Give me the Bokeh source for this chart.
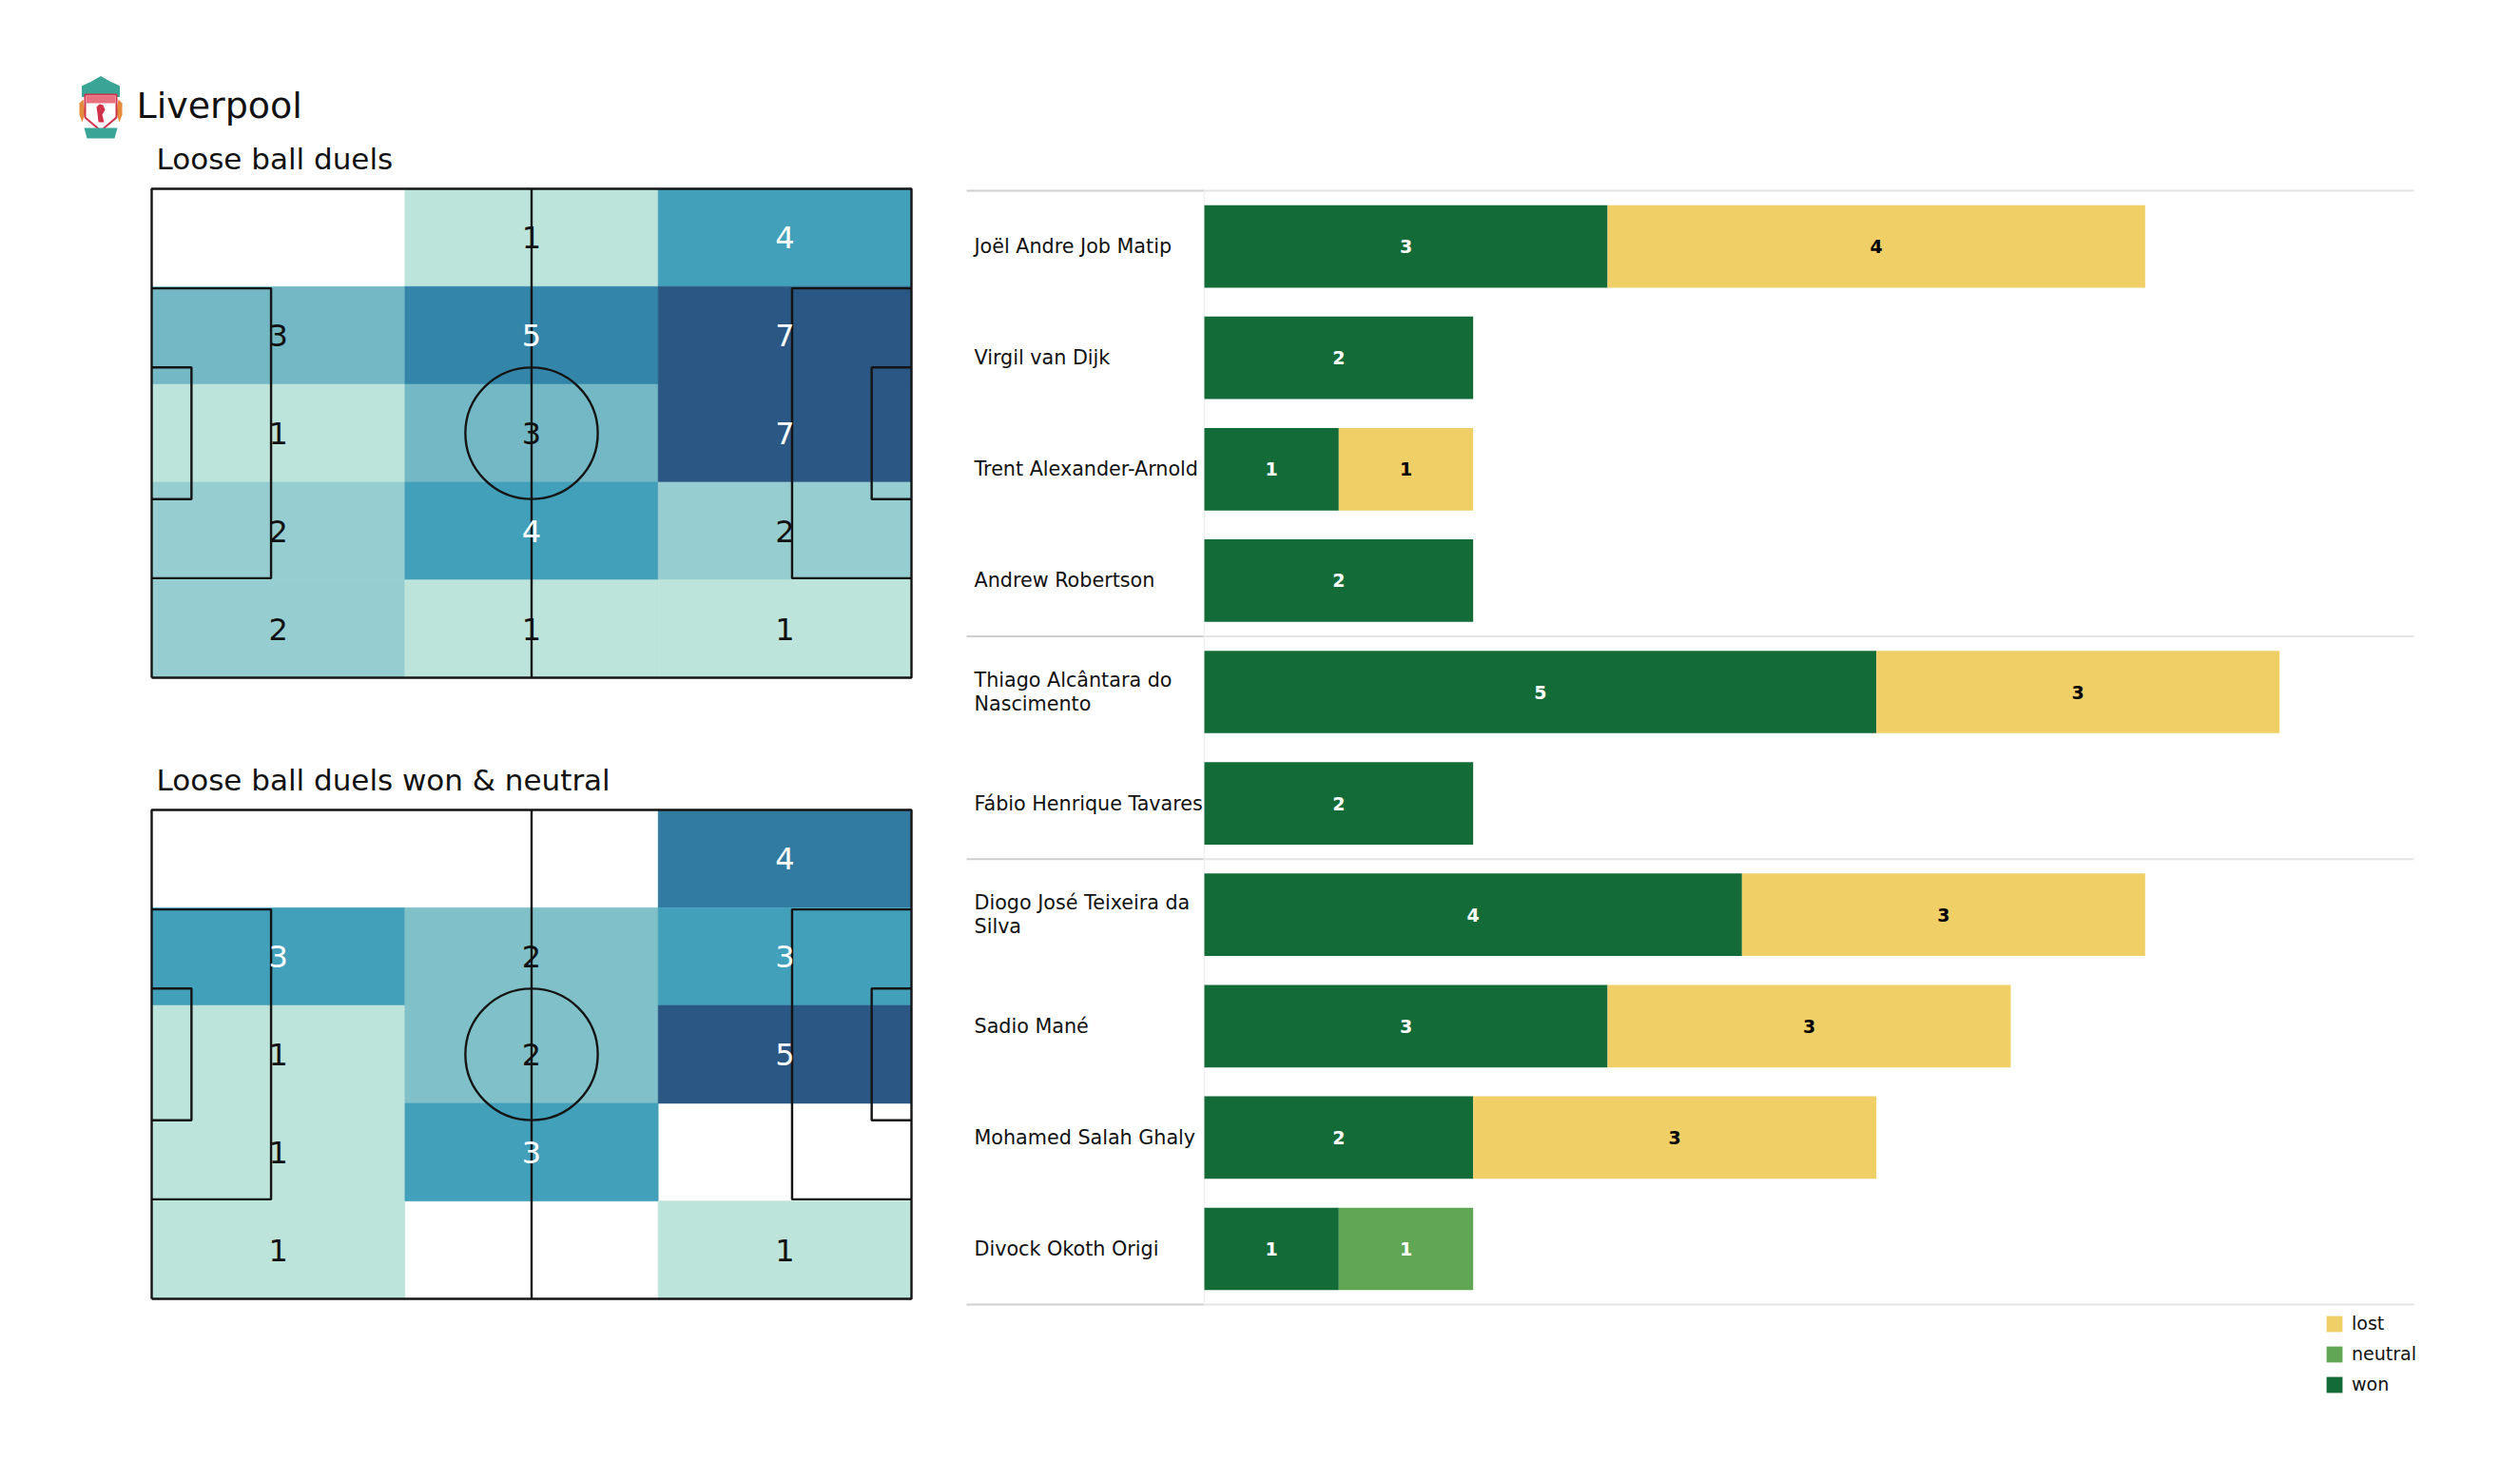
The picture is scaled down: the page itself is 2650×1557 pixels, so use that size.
from bokeh.plotting import figure
from bokeh.models import Range1d, Label, Legend, LegendItem, ColumnDataSource
from bokeh.embed import file_html
from bokeh.resources import INLINE
from bokeh.core.properties import value

# ---------------- data ----------------
team = "Liverpool"
title_all = "Loose ball duels"
title_won = "Loose ball duels won & neutral"

# zone counts, rows top -> bottom, columns left -> right
duels_all = [[0, 1, 4],
             [3, 5, 7],
             [1, 3, 7],
             [2, 4, 2],
             [2, 1, 1]]
duels_won_neutral = [[0, 0, 4],
                     [3, 2, 3],
                     [1, 2, 5],
                     [1, 3, 0],
                     [1, 0, 1]]

players = ["Joël Andre Job Matip", "Virgil van Dijk", "Trent Alexander-Arnold",
           "Andrew Robertson", "Thiago Alcântara do\nNascimento",
           "Fábio Henrique Tavares", "Diogo José Teixeira da\nSilva",
           "Sadio Mané", "Mohamed  Salah Ghaly", "Divock Okoth Origi"]
won = [3, 2, 1, 2, 5, 2, 4, 3, 2, 1]
neutral = [0, 0, 0, 0, 0, 0, 0, 0, 0, 1]
lost = [4, 0, 1, 0, 3, 0, 3, 3, 3, 0]
group_sizes = [4, 2, 4]
legend_labels = ["lost", "neutral", "won"]

# ---------------- style / layout ----------------
FONT = "DejaVu Sans"
C_WON, C_NEU, C_LOST = "#136b38", "#60a655", "#f0cf67"
CMAP = [(0.0, "#bde4da"), (0.2, "#bde4da"), (0.29, "#93cccf"), (0.4, "#80c0c8"),
        (0.43, "#72b8c4"), (0.57, "#43a0bb"), (0.6, "#43a0bb"), (0.71, "#3386a9"),
        (0.8, "#327ba0"), (1.0, "#2a5783")]
PL, PW = 105.0, 68.0
W, H = 2634, 1541

# panel placement in canvas pixels (left, right, top, bottom)
P1_BOX = (159, 958, 198, 712)
P2_BOX = (159, 958, 851, 1365)
BAR_X0_PX, BAR_X9_PX = 1266, 2538          # value 0 and value 9
BAR_ROW0_PX, BAR_ROW9_PX = 258.6, 1312.5   # first and last row centres
BAR_LEFT_PX = 1016
NAME_PX = 1024


def lin_range(d0, p0, d1, p1, total, from_top=False):
    s = (d1 - d0) / (p1 - p0)
    v = lambda p: d0 + (p - p0) * s
    if from_top:
        return Range1d(start=v(total), end=v(0))
    return Range1d(start=v(0), end=v(total))


def hex2rgb(h):
    return tuple(int(h[i:i + 2], 16) for i in (1, 3, 5))


def cmap(f):
    for (f0, c0), (f1, c1) in zip(CMAP[:-1], CMAP[1:]):
        if f <= f1:
            t = 0 if f1 == f0 else (f - f0) / (f1 - f0)
            a, b = hex2rgb(c0), hex2rgb(c1)
            return "#%02x%02x%02x" % tuple(int(round(a[k] + (b[k] - a[k]) * t)) for k in range(3))
    return CMAP[-1][1]


bar_x = lin_range(0, BAR_X0_PX, 9, BAR_X9_PX, W)
bar_y = lin_range(0, BAR_ROW0_PX, 9, BAR_ROW9_PX, H, from_top=True)

p = figure(width=W, height=H, x_range=bar_x, y_range=bar_y, output_backend="svg",
           toolbar_location=None, min_border=0, x_axis_location=None, y_axis_location=None,
           outline_line_color=None, border_fill_color="white", background_fill_color="white")
p.grid.visible = False
p.extra_x_ranges = {"pitch": lin_range(0, P1_BOX[0], PL, P1_BOX[1], W),
                    "page": Range1d(0, W)}
p.extra_y_ranges = {"p1": lin_range(PW, P1_BOX[2], 0, P1_BOX[3], H, from_top=True),
                    "p2": lin_range(PW, P2_BOX[2], 0, P2_BOX[3], H, from_top=True),
                    "page": Range1d(H, 0)}


def draw_pitch(grid, title, yname):
    kw = dict(x_range_name="pitch", y_range_name=yname)
    nr, nc = len(grid), len(grid[0])
    cw, rh = PL / nc, PW / nr
    vmax = max(max(r) for r in grid)
    d = dict(x=[], y=[], c=[], t=[], tc=[])
    for i, r in enumerate(grid):
        for j, v in enumerate(r):
            if v == 0:
                continue
            f = v / vmax
            d["x"].append((j + 0.5) * cw)
            d["y"].append(PW - (i + 0.5) * rh)
            d["c"].append(cmap(f))
            d["t"].append(str(v))
            d["tc"].append("white" if f > 0.5 else "#111111")
    src = ColumnDataSource(d)
    p.rect(x="x", y="y", width=cw, height=rh, fill_color="c", line_color="c",
           line_width=0.6, source=src, **kw)
    lc, lw = "#141414", 2.4
    p.line([0, PL, PL, 0, 0], [0, 0, PW, PW, 0], line_color=lc, line_width=lw, **kw)
    p.line([PL / 2, PL / 2], [0, PW], line_color=lc, line_width=lw, **kw)
    pb_d, pb_w, sb_d, sb_w = 16.5, 40.32, 5.5, 18.32
    for x0, s in ((0, 1), (PL, -1)):
        p.line([x0, x0 + s * pb_d, x0 + s * pb_d, x0],
               [PW / 2 - pb_w / 2, PW / 2 - pb_w / 2, PW / 2 + pb_w / 2, PW / 2 + pb_w / 2],
               line_color=lc, line_width=lw, **kw)
        p.line([x0, x0 + s * sb_d, x0 + s * sb_d, x0],
               [PW / 2 - sb_w / 2, PW / 2 - sb_w / 2, PW / 2 + sb_w / 2, PW / 2 + sb_w / 2],
               line_color=lc, line_width=lw, **kw)
    p.ellipse(x=PL / 2, y=PW / 2, width=18.3, height=18.3, fill_color=None,
              line_color=lc, line_width=lw, **kw)
    p.text(x="x", y="y", text="t", text_color="tc", source=src, text_align="center",
           text_baseline="middle", text_font=value(FONT), text_font_size="32px", **kw)
    p.add_layout(Label(x=0, y=PW, text=title, x_offset=5, y_offset=32,
                       text_baseline="middle", text_font=FONT, text_font_size="31px",
                       text_color="#111111", x_range_name="pitch", y_range_name=yname))


draw_pitch(duels_all, title_all, "p1")
draw_pitch(duels_won_neutral, title_won, "p2")

# ---------------- header with crest ----------------
hk = dict(x_range_name="page", y_range_name="page")
TEAL, RED = "#3aa596", "#d0324a"
p.patch([86, 86, 95, 105.5, 116, 125, 125], [101, 90, 86, 80, 86, 90, 101],
        fill_color=TEAL, line_color=TEAL, **hk)
p.patch([83, 87, 89, 86, 83], [108, 104, 118, 128, 120], fill_color="#e58a3c", line_color=None, **hk)
p.patch([128, 124, 122, 125, 128], [108, 104, 118, 128, 120], fill_color="#e58a3c", line_color=None, **hk)
p.patch([89, 122, 122, 105.5, 89], [99, 99, 123, 137, 123], fill_color="white",
        line_color=RED, line_width=2, **hk)
p.rect(x=105.5, y=104, width=30, height=8, fill_color="#e8707f", line_color=None, **hk)
p.patch([101, 104, 108, 110, 107, 109, 103, 102], [112, 109, 110, 115, 120, 128, 128, 119],
        fill_color=RED, line_color=None, **hk)
p.patch([88, 123, 120, 91], [134, 134, 145, 145], fill_color=TEAL, line_color=None, **hk)
p.text(x=[143], y=[110], text=[team], text_baseline="middle", text_align="left",
       text_font=value(FONT), text_font_size="38px", text_color="#111111", **hk)

# ---------------- bar chart ----------------
n = len(players)
ys = list(range(n))
x_left = bar_x.start + BAR_LEFT_PX * (bar_x.end - bar_x.start) / W
x_name = bar_x.start + NAME_PX * (bar_x.end - bar_x.start) / W

bounds = [-0.5]
for g in group_sizes:
    bounds.append(bounds[-1] + g)
p.segment(x0=[x_left] * len(bounds), x1=[0] * len(bounds), y0=bounds, y1=bounds,
          line_color="#cfcfcf", line_width=2)
p.segment(x0=[0] * len(bounds), x1=[9] * len(bounds), y0=bounds, y1=bounds,
          line_color="#e4e4e4", line_width=2)
p.segment(x0=[0], x1=[0], y0=[bounds[0]], y1=[bounds[-1]], line_color="#f0f0f0", line_width=1.5)

src = ColumnDataSource(dict(y=ys, won=won, neutral=neutral, lost=lost))
rs = p.hbar_stack(["won", "neutral", "lost"], y="y", height=0.74,
                  color=[C_WON, C_NEU, C_LOST], line_color=None, source=src)

lx, ly, lt, lc_ = [], [], [], []
for i in range(n):
    left = 0
    for v, col in ((won[i], "white"), (neutral[i], "white"), (lost[i], "black")):
        if v > 0:
            lx.append(left + v / 2)
            ly.append(i)
            lt.append(str(v))
            lc_.append(col)
        left += v
p.text(x=lx, y=ly, text=lt, text_color=lc_, text_align="center", text_baseline="middle",
       text_font=value(FONT), text_font_size="19px", text_font_style="bold")

p.text(x=[x_name] * n, y=ys, text=players, text_align="left", text_baseline="middle",
       text_font=value(FONT), text_font_size="20.7px", text_color="#111111",
       text_line_height=1.06)

leg = Legend(items=[LegendItem(label=legend_labels[0], renderers=[rs[2]]),
                    LegendItem(label=legend_labels[1], renderers=[rs[1]]),
                    LegendItem(label=legend_labels[2], renderers=[rs[0]])],
             location=(2444, 75), glyph_width=21, glyph_height=21, label_height=21,
             label_standoff=8, spacing=10, padding=0, margin=0,
             border_line_color=None, background_fill_alpha=0,
             label_text_font=FONT, label_text_font_size="19px", label_text_color="#111111")
p.add_layout(leg)

open("out.html", "w").write(file_html(p, INLINE))
